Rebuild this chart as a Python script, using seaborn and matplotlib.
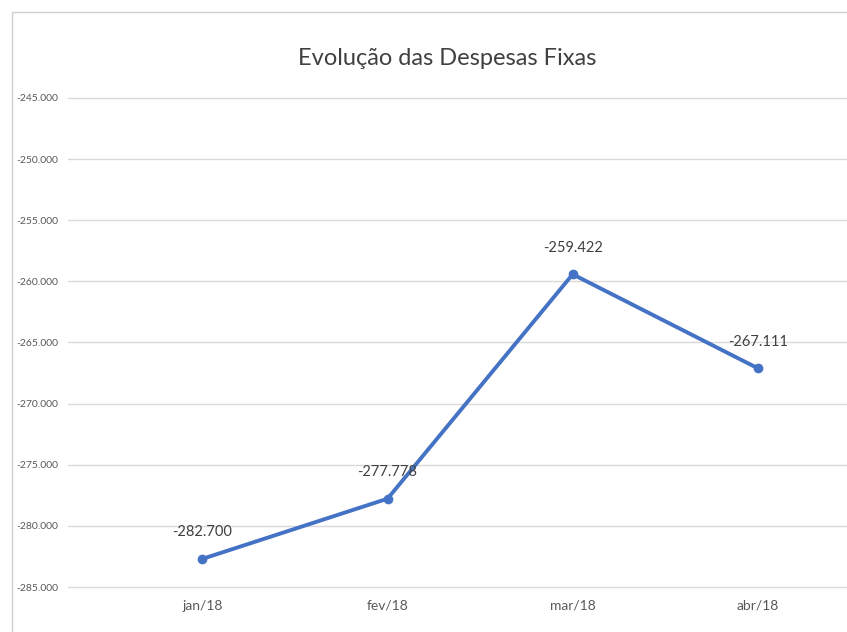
import matplotlib.pyplot as plt
import matplotlib.patches as mpatches
import numpy as np
import pandas as pd
import seaborn as sns

months = ["jan/18", "fev/18", "mar/18", "abr/18"]
despesas = [-282700, -277778, -259422, -267111]
y_ticks = [-285000, -280000, -275000, -270000, -265000, -260000, -255000, -250000, -245000]

LINE_COLOR = "#4472C4"
TEXT_COLOR = "#595959"


def fmt_br(v):
    return f"{v:,.0f}".replace(",", ".")


sns.set_style("white")
plt.rcParams["font.family"] = ["Lato", "DejaVu Sans"]

df = pd.DataFrame({"mes": np.arange(len(months)), "valor": despesas})

fig = plt.figure(figsize=(8.47, 6.32), dpi=100)
ax = fig.add_axes([0.080, 0.0712, 0.935, 0.7738])

sns.lineplot(
    data=df,
    x="mes",
    y="valor",
    ax=ax,
    color=LINE_COLOR,
    linewidth=2.8,
    marker="o",
    markersize=7,
    markeredgewidth=0,
)

for x, v in zip(df["mes"], df["valor"]):
    ax.annotate(
        fmt_br(v),
        (x, v),
        xytext=(0, 14),
        textcoords="offset points",
        ha="center",
        va="bottom",
        fontsize=10.5,
        color="#404040",
    )

ax.set_ylim(-285000, -245000)
ax.set_xlim(-0.727, 3.55)
ax.set_yticks(y_ticks)
ax.set_yticklabels([fmt_br(t) for t in y_ticks])
ax.set_xticks(df["mes"])
ax.set_xticklabels(months)
ax.tick_params(axis="x", length=0, labelsize=10, labelcolor=TEXT_COLOR, pad=9)
ax.tick_params(axis="y", length=0, labelsize=7.5, labelcolor=TEXT_COLOR, pad=7)
ax.grid(axis="y", color="#D9D9D9", linewidth=1)
for gl in ax.get_ygridlines():
    gl.set_clip_on(False)
ax.set_axisbelow(True)
for side in ax.spines.values():
    side.set_visible(False)
ax.set_xlabel("")
ax.set_ylabel("")

fig.text(0.528, 0.908, "Evolução das Despesas Fixas", ha="center", va="center",
         fontsize=17, color="#404040")

# chart area border (cropped at right and bottom)
fig.patches.append(mpatches.Rectangle((0.014, -0.01), 1.0, 0.991, transform=fig.transFigure,
                                      fill=False, edgecolor="#D0D0D0", linewidth=1))

fig.savefig("out.png", dpi=100)
plt.close(fig)
